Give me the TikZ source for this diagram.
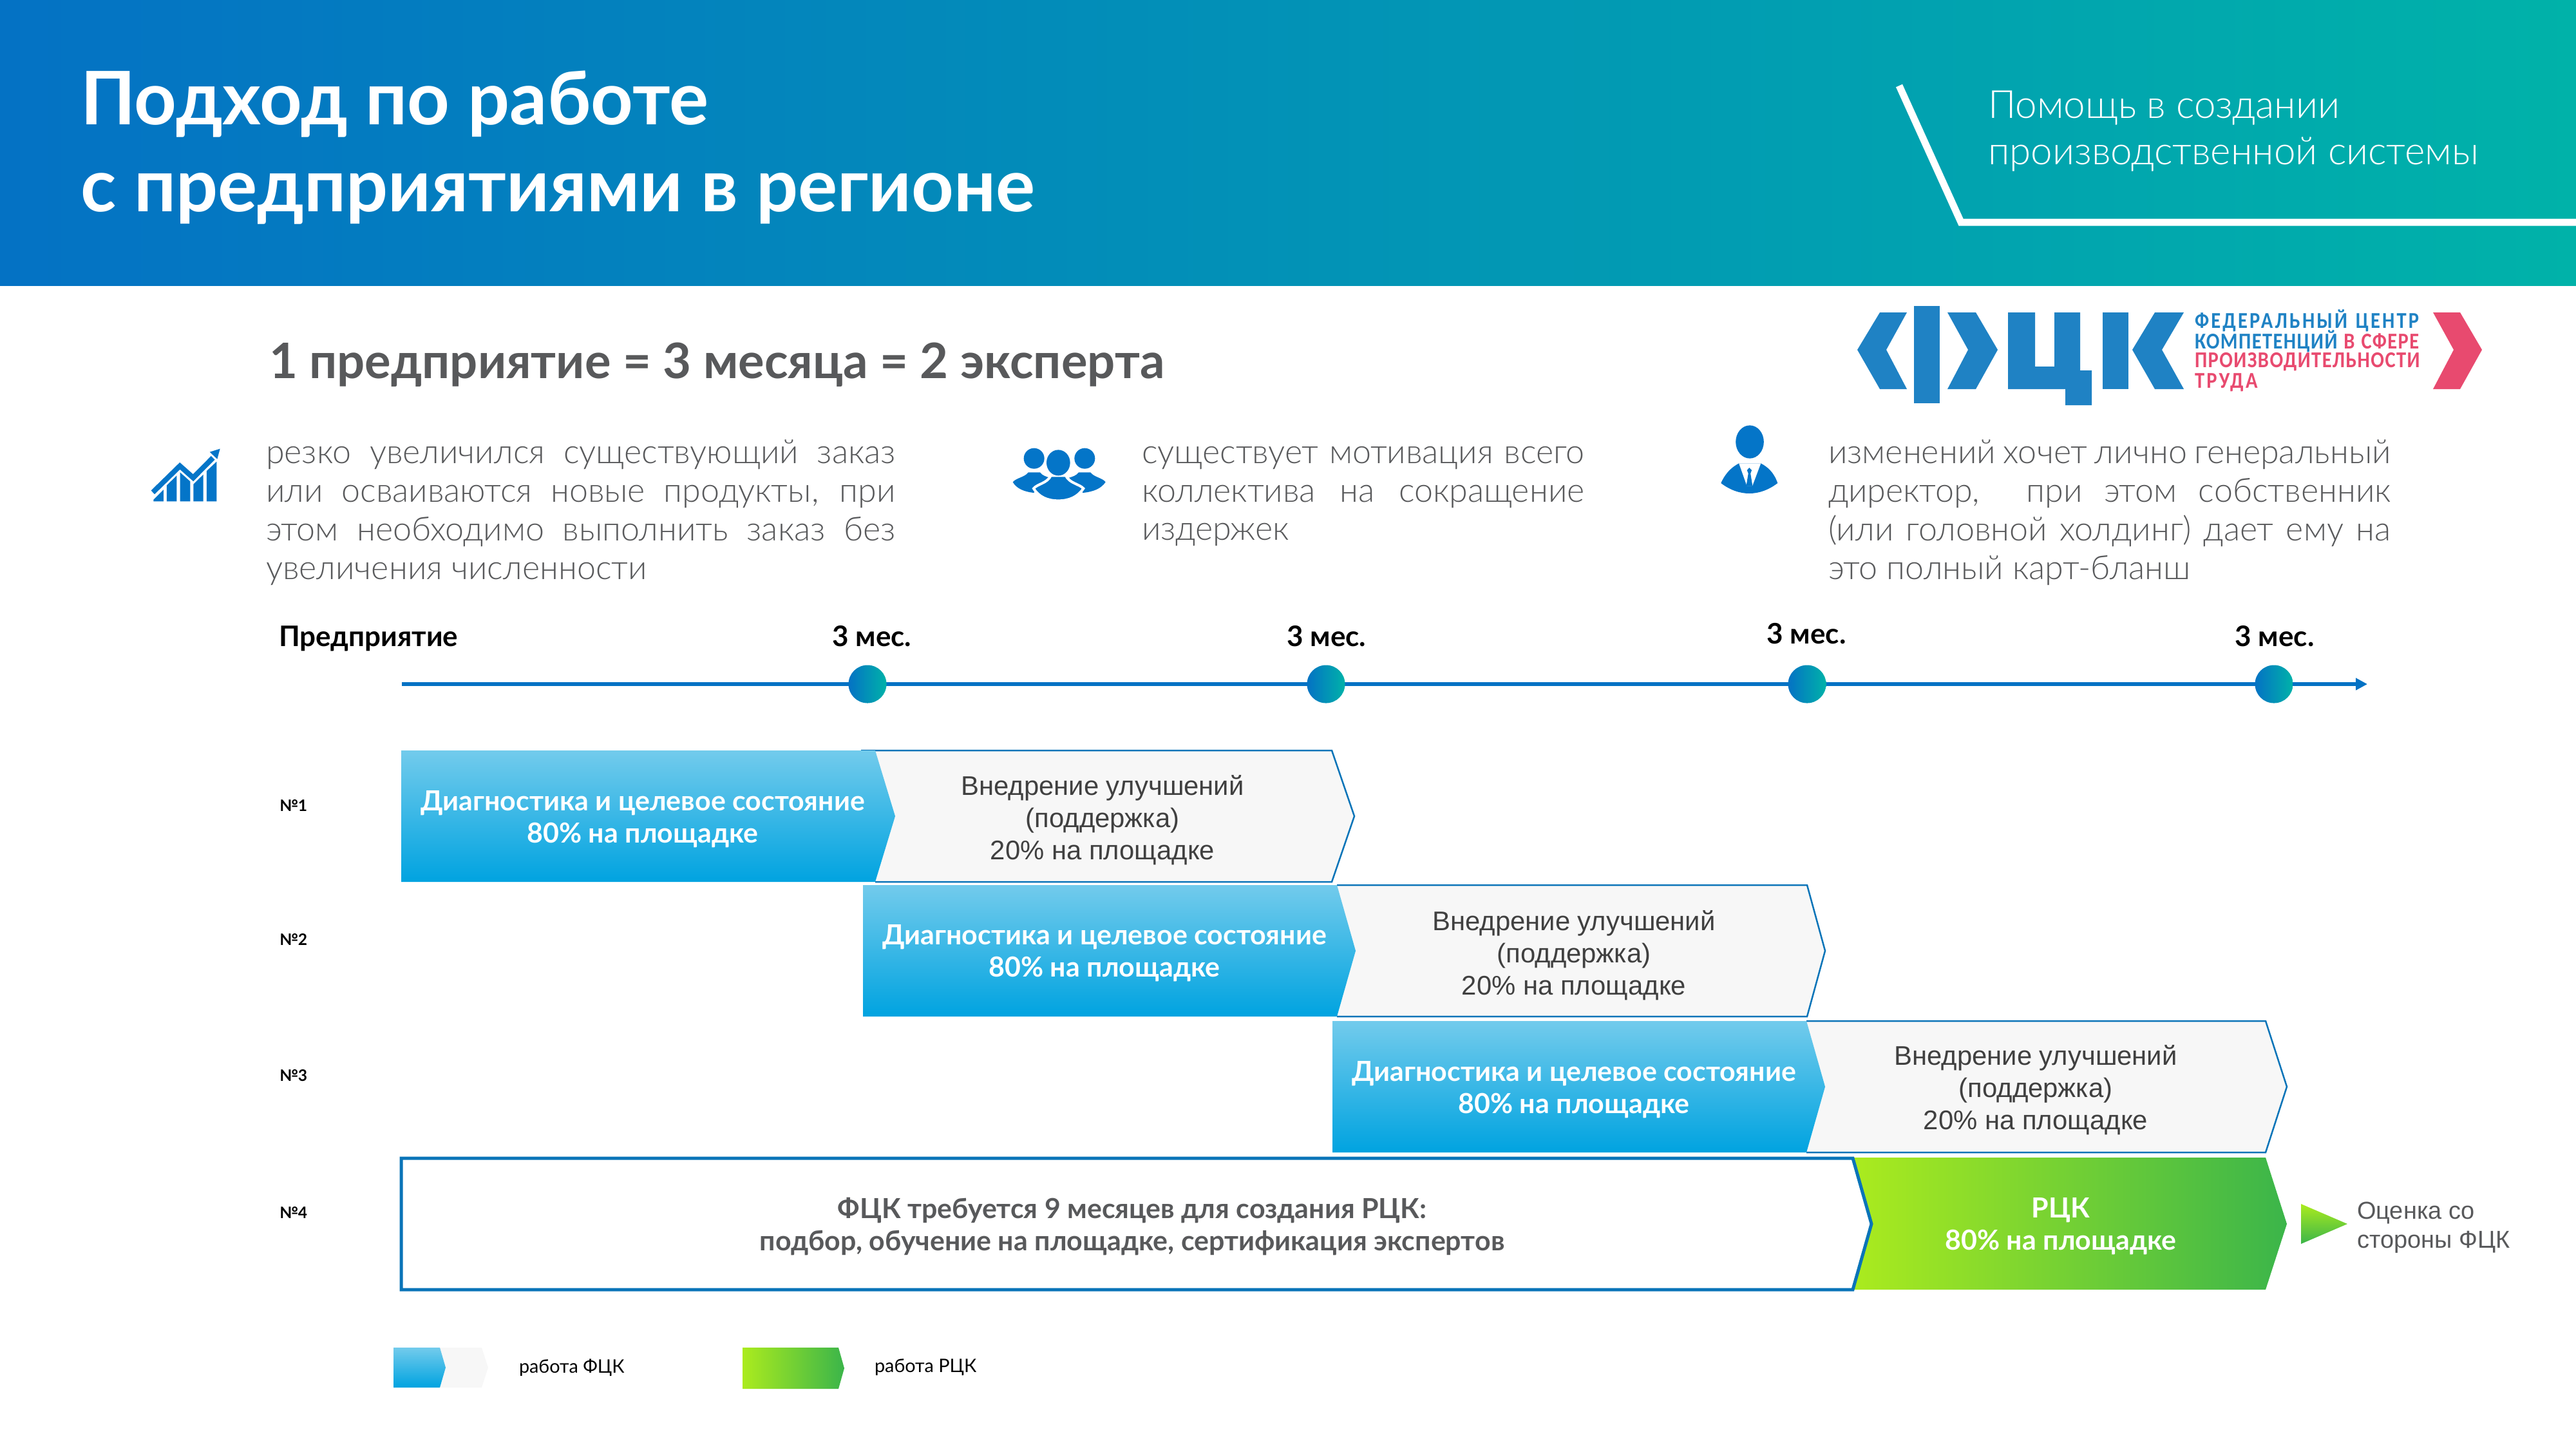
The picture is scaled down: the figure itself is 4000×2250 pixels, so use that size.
\documentclass[tikz,border=0pt]{standalone}
\usepackage{fontspec}
\setmainfont{Lato}
\newfontfamily\lightfont{Lato Light}
\newfontfamily\argsfont{Liberation Sans}
\newfontfamily\logofont[FakeStretch=0.87,LetterSpace=4]{Carlito}
\usetikzlibrary{arrows.meta, positioning}

\definecolor{fckblue}{HTML}{0472C4}
\definecolor{fckmid}{HTML}{019FBE}
\definecolor{fckteal}{HTML}{00B2A9}
\definecolor{fckgrey}{HTML}{58595B}
\definecolor{logoblue}{HTML}{1F82C4}
\definecolor{logopink}{HTML}{E84A6F}
\definecolor{iconblue}{HTML}{0475C8}
\definecolor{skytop}{HTML}{72CBEC}
\definecolor{skybot}{HTML}{00A3E0}
\definecolor{limeleft}{HTML}{ABEB1E}
\definecolor{limeright}{HTML}{3BB54A}
\definecolor{barline}{HTML}{0A74B8}

\begin{document}
\begin{tikzpicture}[
    x=0.01cm, y=-0.01cm,
    plain/.style={inner sep=0pt, outer sep=0pt},
    title/.style={plain, anchor=base west, text=white, font=\fontsize{32.6}{36}\selectfont\bfseries},
    helper/.style={plain, anchor=base west, text=white, font=\lightfont\fontsize{17.1}{20}\selectfont},
    para/.style={plain, anchor=north west, align=justify, text=fckgrey, font=\lightfont\fontsize{14.8}{17}\selectfont},
    month/.style={plain, font=\fontsize{12.5}{15}\selectfont\bfseries},
    rowno/.style={plain, anchor=west, font=\fontsize{7}{10}\selectfont\bfseries},
    dot/.style={circle, plain, minimum size=0.59cm, left color=fckblue, right color=fckteal},
    fckbar/.style={top color=skytop, bottom color=skybot},
    fcktxt/.style={plain, align=center, text=white, font=\fontsize{12.2}{14.2}\selectfont\bfseries},
    supbar/.style={fill=black!3},
    supline/.style={draw=barline, line width=0.025cm},
    suptxt/.style={plain, align=center, text=black!75, font=\argsfont\fontsize{11.9}{14.2}\selectfont},
    rckbar/.style={left color=limeleft, right color=limeright},
    legend/.style={plain, anchor=west, font=\fontsize{8.2}{10}\selectfont},
    icon/.style={fill=iconblue},
    logotxt/.style={plain, anchor=west, font=\logofont\fontsize{10}{12}\selectfont\bfseries}
]
\useasboundingbox (0,0) rectangle (4000,2250);

% header
\shade[left color=fckblue, middle color=fckmid, right color=fckteal] (0,0) rectangle (4000,443);
\node[title] (title1) at (125,193) {Подход по работе};
\node[title] (title2) at (125,328) {с предприятиями в регионе};
\draw[white, line width=0.11cm] (2949,133) -- (3045,345) -- (4000,345);
\node[helper] (helper1) at (3087,183) {Помощь в создании};
\node[helper] (helper2) at (3087,255) {производственной системы};

% logo
\fill[logoblue] (2919,485) -- (2961,485) -- (2929,543) -- (2961,604) -- (2919,604) -- (2884,543) -- cycle;
\fill[logoblue] (2972,475) rectangle (3012,626);
\fill[logoblue] (3024,485) -- (3068,485) -- (3102,543) -- (3068,604) -- (3024,604) -- (3056,543) -- cycle;
\fill[logoblue] (3118,485) -- (3160,485) -- (3160,569) -- (3190,569) -- (3190,485) -- (3230,485) -- (3230,575) -- (3248,575) -- (3248,629) -- (3207,629) -- (3207,604) -- (3118,604) -- cycle;
\fill[logoblue] (3265,485) rectangle (3305,604);
\fill[logoblue] (3346,485) -- (3391,485) -- (3357,543) -- (3391,604) -- (3346,604) -- (3311,543) -- cycle;
\fill[logopink] (3778,485) -- (3820,485) -- (3854,543) -- (3820,604) -- (3778,604) -- (3810,543) -- cycle;
\node[logotxt, text=logoblue] (logo1) at (3408,498) {\makebox[3.48cm][s]{\addfontfeature{LetterSpace=9}ФЕДЕРАЛЬНЫЙ ЦЕНТР}};
\node[logotxt, text=logoblue] (logo2) at (3408,530) {\makebox[3.48cm][s]{КОМПЕТЕНЦИЙ \textcolor{logopink}{В СФЕРЕ}}};
\node[logotxt, text=logopink] (logo3) at (3408,562) {ПРОИЗВОДИТЕЛЬНОСТИ};
\node[logotxt, text=logopink] (logo4) at (3408,594) {\addfontfeature{LetterSpace=9}ТРУДА};

% slogan
\node[plain, anchor=base west, text=fckgrey, font=\fontsize{21.6}{24}\selectfont\bfseries] (slogan) at (418,587) {1 предприятие = 3 месяца = 2 эксперта};

% chart icon
\begin{scope}[shift={(210,670)}, scale=0.3333]
\draw[iconblue, line width=0.08cm] (82,283) -- (208,160) -- (270,215) -- (362,122);
\fill[icon] (347,95) -- (395,80) -- (382,128) -- cycle;
\fill[icon] (85,325) -- (85,317) -- (132,270) -- (132,325) -- cycle;
\fill[icon] (147,325) -- (147,250) -- (193,205) -- (193,325) -- cycle;
\fill[icon] (209,325) -- (209,190) -- (256,232) -- (256,325) -- cycle;
\fill[icon] (271,325) -- (271,245) -- (317,200) -- (317,325) -- cycle;
\fill[icon] (333,325) -- (333,183) -- (379,140) -- (379,325) -- cycle;
\end{scope}

% people icon
\begin{scope}[shift={(1550,670)}, scale=0.3333]
\fill[icon] (167,125) ellipse [x radius=48, y radius=48];
\fill[icon] (403,125) ellipse [x radius=48, y radius=48];
\fill[icon] (68,235) .. controls (85,215) and (125,212) .. (140,190) -- (195,190) .. controls (205,205) and (225,210) .. (240,215) -- (165,285) .. controls (120,280) and (85,265) .. (68,235) -- cycle;
\fill[icon] (500,235) .. controls (485,215) and (445,212) .. (430,190) -- (375,190) .. controls (365,205) and (345,210) .. (330,215) -- (395,285) .. controls (445,280) and (480,265) .. (500,235) -- cycle;
\fill[icon, draw=white, line width=0.04cm] (165,265) .. controls (180,245) and (230,240) .. (245,205) -- (315,205) .. controls (330,240) and (380,245) .. (397,265) .. controls (370,305) and (330,322) .. (280,322) .. controls (230,322) and (190,305) .. (165,265) -- cycle;
\fill[icon] (280,145) ellipse [x radius=55, y radius=60];
\end{scope}

% person icon
\begin{scope}[shift={(2500,620)}, xscale=0.3827, yscale=0.3333]
\fill[icon] (567,198) ellipse [x radius=57, y radius=77];
\fill[icon] (450,390) .. controls (470,340) and (495,315) .. (523,298) -- (612,298) .. controls (640,315) and (665,340) .. (680,390) .. controls (640,425) and (600,438) .. (565,438) .. controls (530,438) and (490,425) .. (450,390) -- cycle;
\fill[white] (523,298) -- (612,298) -- (578,402) -- (555,402) -- cycle;
\fill[icon] (565,318) -- (575,330) -- (570,345) -- (578,402) -- (553,402) -- (561,345) -- (556,330) -- cycle;
\end{scope}

% paragraphs
\node[para, text width=9.77cm] (para1) at (413,683) {резко увеличился существующий заказ\linebreak или осваиваются новые продукты, при\linebreak этом необходимо выполнить заказ без\linebreak увеличения численности};
\node[para, text width=6.87cm] (para2) at (1773,693) {существует мотивация всего\linebreak коллектива на сокращение\linebreak издержек};
\node[para, text width=8.73cm] (para3) at (2839,683) {изменений хочет лично генеральный\linebreak директор, \ при этом собственник\linebreak (или головной холдинг) дает ему на\linebreak это полный карт-бланш};

% timeline
\node[month, anchor=west] (company) at (433,991) {Предприятие};
\node[month] (mon1) at (1354,988) {3 мес.};
\node[month] (mon2) at (2060,988) {3 мес.};
\node[month] (mon3) at (2805,984) {3 мес.};
\node[month] (mon4) at (3532,988) {3 мес.};
\coordinate (tlstart) at (624,1062);
\coordinate (tlend) at (3676,1062);
\draw[fckblue, line width=0.06cm, -{Triangle[length=0.18cm, width=0.18cm]}] (tlstart) -- (tlend);
\node[dot] (dot1) at (1347,1062) {};
\node[dot] (dot2) at (2059,1062) {};
\node[dot] (dot3) at (2806,1062) {};
\node[dot] (dot4) at (3531,1062) {};

% row numbers
\node[rowno] (no1) at (434,1250) {№1};
\node[rowno] (no2) at (434,1458) {№2};
\node[rowno] (no3) at (434,1670) {№3};
\node[rowno] (no4) at (434,1882) {№4};

% row 1
\path[supbar] (1359,1165) -- (2068,1165) -- (2103,1267) -- (2068,1369) -- (1359,1369) -- cycle;
\draw[supline] (1337,1165) -- (2068,1165) -- (2103,1267) -- (2068,1369) -- (1359,1369);
\shade[fckbar] (623,1165) -- (1359,1165) -- (1390,1267) -- (1359,1369) -- (623,1369) -- cycle;
\node[fcktxt] (diag1) at (998,1272) {Диагностика и целевое состояние\\80\% на площадке};
\node[suptxt] (impl1) at (1712,1273) {Внедрение улучшений\\(поддержка)\\20\% на площадке};

% row 2
\path[supbar] (2076,1374) -- (2806,1374) -- (2834,1476) -- (2806,1578) -- (2076,1578) -- cycle;
\draw[supline] (2076,1374) -- (2806,1374) -- (2834,1476) -- (2806,1578) -- (2076,1578);
\shade[fckbar] (1340,1374) -- (2076,1374) -- (2105,1476) -- (2076,1578) -- (1340,1578) -- cycle;
\node[fcktxt] (diag2) at (1715,1480) {Диагностика и целевое состояние\\80\% на площадке};
\node[suptxt] (impl2) at (2444,1483) {Внедрение улучшений\\(поддержка)\\20\% на площадке};

% row 3
\path[supbar] (2805,1585) -- (3518,1585) -- (3551,1687) -- (3518,1789) -- (2805,1789) -- cycle;
\draw[supline] (2805,1585) -- (3518,1585) -- (3551,1687) -- (3518,1789) -- (2805,1789);
\shade[fckbar] (2069,1585) -- (2805,1585) -- (2834,1687) -- (2805,1789) -- (2069,1789) -- cycle;
\node[fcktxt] (diag3) at (2444,1692) {Диагностика и целевое состояние\\80\% на площадке};
\node[suptxt] (impl3) at (3161,1692) {Внедрение улучшений\\(поддержка)\\20\% на площадке};

% row 4
\shade[rckbar] (2877,1797) -- (3518,1797) -- (3551,1900) -- (3518,2002) -- (2877,2002) -- cycle;
\draw[fill=white, draw=barline, line width=0.05cm] (623,1798) -- (2877,1798) -- (2906,1900) -- (2877,2002) -- (623,2002) -- cycle;
\node[fcktxt, text=fckgrey] (prep) at (1758,1904) {ФЦК требуется 9 месяцев для создания РЦК:\\подбор, обучение на площадке, сертификация экспертов};
\node[fcktxt] (rck) at (3200,1904) {РЦК\\80\% на площадке};
\shade[top color=limeleft, bottom color=limeright] (3573,1869) -- (3645,1900) -- (3573,1931) -- cycle;
\node[plain, anchor=west, align=left, text=fckgrey, font=\argsfont\fontsize{10.8}{12.8}\selectfont] (assess) at (3660,1906) {Оценка со\\стороны ФЦК};

% legend
\path[supbar] (683,2092) -- (748,2092) -- (758,2123) -- (748,2154) -- (683,2154) -- cycle;
\shade[fckbar] (611,2092) -- (683,2092) -- (692,2123) -- (683,2154) -- (611,2154) -- cycle;
\node[legend] (legfck) at (806,2123) {работа ФЦК};
\shade[rckbar] (1153,2092) -- (1302,2092) -- (1311,2124) -- (1302,2156) -- (1153,2156) -- cycle;
\node[legend] (legrck) at (1358,2123) {работа РЦК};

\end{tikzpicture}
\end{document}
